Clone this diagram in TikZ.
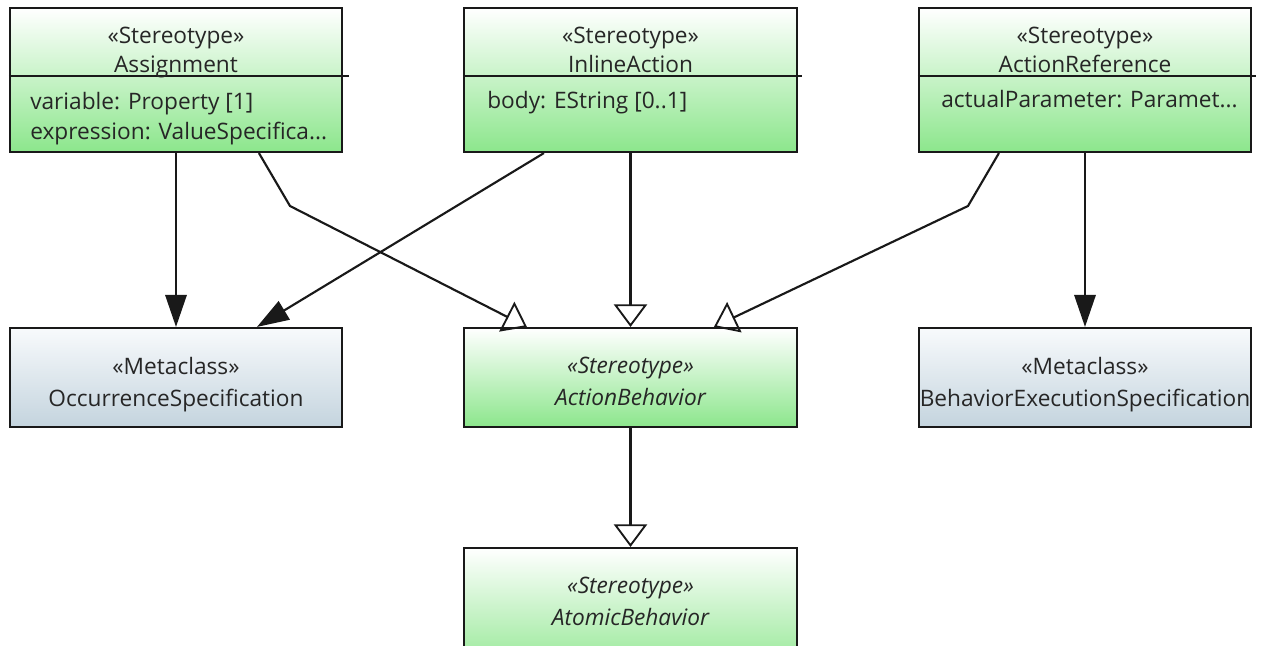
\documentclass[tikz,border=0pt]{standalone}
\usepackage{fontspec}
\setmainfont{Open Sans}
\usetikzlibrary{arrows.meta, positioning, fit, calc}
\definecolor{stereogreen}{RGB}{140,230,140}
\definecolor{metatop}{RGB}{248,250,252}
\definecolor{metabottom}{RGB}{196,212,222}
\definecolor{boxline}{RGB}{25,25,25}

\tikzset{
  classbox/.style={draw=boxline, line width=1.6pt, inner sep=0pt},
  stereobox/.style={classbox, top color=white, bottom color=stereogreen},
  metabox/.style={classbox, top color=metatop, bottom color=metabottom},
  title/.style={anchor=base, inner sep=0pt, text=black!85, font=\fontsize{17}{20}\selectfont},
  attr/.style={anchor=base west, inner sep=0pt, text=black!85, font=\fontsize{17}{20}\selectfont},
  divider/.style={draw=boxline, line width=1.6pt},
  dep/.style={draw=boxline, line width=1.6pt, -{Triangle[length=24pt, width=16pt]}},
  gen/.style={draw=boxline, line width=1.6pt, -{Triangle[open, length=17pt, width=25pt, line width=1.4pt]}},
}

\begin{document}
\begin{tikzpicture}[x=0.75pt, y=-0.75pt]
\fill[white] (0,0) rectangle (1261,646);
\useasboundingbox (0,0) rectangle (1261,646);
\clip (0,0) rectangle (1261,646);

% top row
\node[stereobox, fit={(10,8) (342,152)}] (assign) {};
\node[stereobox, fit={(464,8) (797,152)}] (inline) {};
\node[stereobox, fit={(919,8) (1251,152)}] (actref) {};
\draw[divider] ($(assign.north west)+(0,69)$) -- ($(assign.north east)+(6,69)$);
\draw[divider] ($(inline.north west)+(0,69)$) -- ($(inline.north east)+(4,69)$);
\draw[divider] ($(actref.north west)+(0,69)$) -- ($(actref.north east)+(4,69)$);

\node[title] (assignst) at (176,43) {«Stereotype»};
\node[title] (assignname) at (176,72) {Assignment};
\node[attr] (assignvar) at (30,109) {variable: Property [1]};
\node[attr] (assignexpr) at (30,139) {expression: ValueSpecifica...};

\node[title] (inlinest) at (630.5,43) {«Stereotype»};
\node[title] (inlinename) at (630.5,72) {InlineAction};
\node[attr] (inlinebody) at (487,108) {body: EString [0..1]};

\node[title] (actrefst) at (1085,43) {«Stereotype»};
\node[title] (actrefname) at (1085,72) {ActionReference};
\node[attr] (actrefparam) at (941,107) {actualParameter: Paramet...};

% middle row
\node[metabox, fit={(10,328) (342,427)}] (occur) {};
\node[stereobox, fit={(464,328) (797,427)}] (actbeh) {};
\node[metabox, fit={(919,328) (1251,427)}] (bexspec) {};

\node[title] (occurst) at (176,374) {«Metaclass»};
\node[title] (occurname) at (176,406) {OccurrenceSpecification};
\node[title, font=\fontsize{17}{20}\selectfont\itshape] (actbehst) at (630.5,373) {«Stereotype»};
\node[title, font=\fontsize{17}{20}\selectfont\itshape] (actbehname) at (630.5,405) {ActionBehavior};
\node[title] (bexspecst) at (1085,374) {«Metaclass»};
\node[title] (bexspecname) at (1085,406) {BehaviorExecutionSpecification};

% bottom
\node[stereobox, fit={(464,548) (797,680)}] (atomic) {};
\node[title, font=\fontsize{17}{20}\selectfont\itshape] (atomicst) at (630.5,593) {«Stereotype»};
\node[title, font=\fontsize{17}{20}\selectfont\itshape] (atomicname) at (630.5,625) {AtomicBehavior};

% connectors
\coordinate (bendleft) at (290,206);
\coordinate (bendright) at (968,206);
\draw[dep] (assign) -- (occur);
\draw[gen] ($(assign.south west)+(250,0)$) -- (bendleft) -- ($(actbeh.north west)+(64,0)$);
\draw[dep] ($(inline.south west)+(81,0)$) -- ($(occur.north west)+(248,0)$);
\draw[gen] (inline) -- (actbeh);
\draw[gen] ($(actref.south west)+(81,0)$) -- (bendright) -- ($(actbeh.north west)+(251,0)$);
\draw[dep] (actref) -- (bexspec);
\draw[gen] (actbeh) -- (atomic);
\end{tikzpicture}
\end{document}
